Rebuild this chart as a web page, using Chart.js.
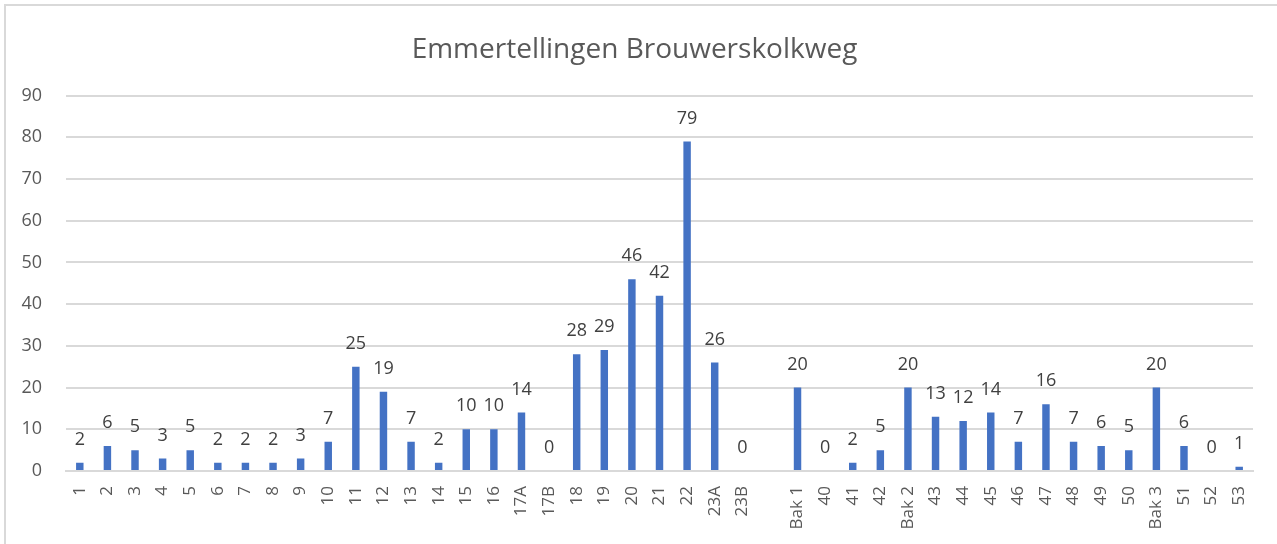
<!DOCTYPE html>
<html>
<head>
<meta charset="utf-8">
<script src="https://cdn.jsdelivr.net/npm/chart.js@4/dist/chart.umd.min.js"></script>
<style>
  html, body { margin: 0; padding: 0; background: #fff; overflow: hidden; }
  #wrap { position: absolute; left: 0; top: 0; width: 1277px; height: 544px; }
  #frame { position: absolute; left: 4px; top: 4px; width: 1290px; height: 560px;
           border-left: 2px solid #d9d9d9; border-top: 2px solid #d9d9d9; pointer-events: none; }
</style>
</head>
<body>
<div id="wrap"><canvas id="c"></canvas></div>
<div id="frame"></div>
<script>
const chartTitle = "Emmertellingen Brouwerskolkweg";
const categories = ["1","2","3","4","5","6","7","8","9","10","11","12","13","14","15","16","17A","17B","18","19","20","21","22","23A","23B","","Bak 1","40","41","42","Bak 2","43","44","45","46","47","48","49","50","Bak 3","51","52","53"];
const counts = [2,6,5,3,5,2,2,2,3,7,25,19,7,2,10,10,14,0,28,29,46,42,79,26,0,null,20,0,2,5,20,13,12,14,7,16,7,6,5,20,6,0,1];
const yTicks = [0,10,20,30,40,50,60,70,80,90];

const FONT = "'Open Sans', sans-serif";
const TEXT = "#595959";

const valueLabels = {
  id: "valueLabels",
  afterDatasetsDraw(chart) {
    const ctx = chart.ctx;
    const meta = chart.getDatasetMeta(0);
    ctx.save();
    ctx.fillStyle = "#404040";
    ctx.font = "18px " + FONT;
    ctx.textAlign = "center";
    ctx.textBaseline = "middle";
    meta.data.forEach((el, i) => {
      const v = counts[i];
      if (v === null || v === undefined) return;
      ctx.fillText(String(v), el.x, el.y - 23);
    });
    ctx.restore();
  }
};

new Chart(document.getElementById("c"), {
  type: "bar",
  data: {
    labels: categories,
    datasets: [{
      data: counts,
      backgroundColor: "#4472C4",
      barPercentage: 0.27,
      categoryPercentage: 1.0
    }]
  },
  options: {
    responsive: true,
    maintainAspectRatio: false,
    animation: false,
    layout: { padding: { left: 16, right: 24, top: 0, bottom: 0 } },
    plugins: {
      legend: { display: false },
      tooltip: { enabled: false },
      title: {
        display: true,
        text: chartTitle,
        color: TEXT,
        font: { family: FONT, size: 28, weight: "normal" },
        padding: { top: 33, bottom: 29 }
      }
    },
    scales: {
      x: {
        grid: { display: false, drawTicks: false },
        border: { display: true, color: "#d9d9d9", width: 2 },
        ticks: {
          color: TEXT,
          font: { family: FONT, size: 17 },
          minRotation: 90, maxRotation: 90,
          autoSkip: false,
          padding: 15
        },
        afterFit(scale) { scale.height = 73; }
      },
      y: {
        min: 0, max: 90,
        afterBuildTicks(scale) { scale.ticks = yTicks.map(v => ({ value: v })); },
        grid: { color: "#d9d9d9", lineWidth: 2, drawTicks: false },
        border: { display: false },
        ticks: {
          color: TEXT,
          font: { family: FONT, size: 18 },
          padding: 24
        },
        afterFit(scale) { scale.width = 50; }
      }
    }
  },
  plugins: [valueLabels]
});
</script>
</body>
</html>
